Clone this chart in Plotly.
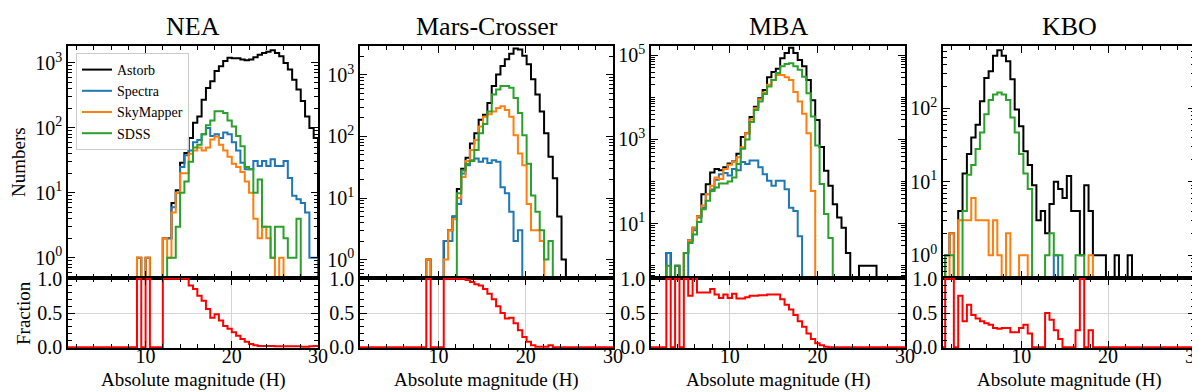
import numpy as np
import plotly.graph_objects as go

BIN_WIDTH = 0.5
H_MIN, H_MAX = 1.0, 30.0

PANELS = ["NEA", "Mars-Crosser", "MBA", "KBO"]
SURVEYS = ["Astorb", "Spectra", "SkyMapper", "SDSS"]
SURVEY_COLORS = ["#000000", "#1f77b4", "#ff7f0e", "#2ca02c"]

# histograms: (left edge of the first bin in H, counts per 0.5 mag bin)
NEA_ASTORB = (9.0, [1, 0, 1, 0, 0, 0, 2, 2, 7, 11, 29, 41, 70, 120, 150, 270, 410, 520, 750, 890,
                    1070, 1200, 1180, 1180, 1130, 1100, 1130, 1220, 1340, 1420, 1480, 1570, 1420, 1260,
                    1000, 790, 550, 390, 260, 150, 100, 70])
NEA_SPECTRA = (12.0, [2, 2, 6, 10, 25, 38, 45, 60, 65, 80, 100, 75, 80, 70, 85, 80, 60, 45, 29, 23,
                      23, 31, 26, 31, 26, 33, 26, 26, 31, 17, 9, 8, 7, 5, 1, 1])
NEA_SKYMAPPER = (9.0, [1, 0, 1, 0, 0, 0, 2, 1, 5, 10, 20, 20, 40, 45, 50, 45, 50, 66, 74, 55, 45, 36,
                       28, 25, 21, 15, 10, 4, 2, 3, 2, 1, 0, 1])
NEA_SDSS = (12.5, [1, 1, 3, 10, 15, 30, 50, 55, 80, 110, 130, 180, 180, 170, 130, 105, 75, 52, 25, 23,
                   10, 16, 3, 3, 1, 3, 3, 2, 1, 1, 4])
NEA_FRAC = (9.0, [1, 0, 1, 0, 0, 0, 1, 1, 1, 1, 1, 1, 0.9, 0.85, 0.75, 0.68, 0.56, 0.43, 0.48, 0.39,
                  0.31, 0.27, 0.22, 0.17, 0.12, 0.08, 0.05, 0.03, 0.02, 0.02, 0.02, 0.02, 0.015, 0.015,
                  0.015, 0.015, 0.015, 0.015, 0.01, 0.01, 0.015, 0.02])

MC_ASTORB = (8.6, [1, 0, 0, 0, 2, 3, 5, 14, 30, 45, 77, 113, 187, 225, 350, 660, 1020, 1400, 1800, 2200,
                   2700, 2600, 2050, 1490, 850, 480, 255, 113, 47, 21, 5, 1])
MC_SPECTRA = (10.6, [2, 2, 5, 8, 25, 34, 41, 44, 39, 44, 37, 41, 39, 15, 12, 6, 2, 3])
MC_SKYMAPPER = (8.6, [1, 0, 0, 0, 1, 3, 4.5, 10, 22, 40, 60, 88, 145, 210, 230, 255, 290, 310, 270, 210,
                      105, 53, 34, 8, 3, 3, 2])
MC_SDSS = (12.1, [12, 28, 36, 40, 60, 113, 160, 255, 480, 580, 660, 660, 620, 420, 240, 105, 36, 11, 6,
                  3, 1, 2])
MC_FRAC = (8.6, [1, 0, 0, 0, 1, 1, 1, 1, 1, 0.98, 0.95, 0.92, 0.9, 0.85, 0.78, 0.7, 0.6, 0.5, 0.42, 0.43,
                 0.35, 0.25, 0.15, 0.08, 0.03, 0.01, 0.01, 0.01, 0.03])

MBA_ASTORB = (2.75, [2, 0, 1, 0, 2, 4, 8, 15, 50, 87, 165, 200, 185, 220, 270, 300, 455, 1150, 1400, 3400,
                     6000, 9500, 15000, 30000, 40000, 48000, 85000, 113000, 150000, 113000, 77000,
                     55000, 26000, 8600, 2900, 660, 180, 80, 29, 14, 8, 2, 0, 0, 1, 1, 1, 1])
MBA_SPECTRA = (2.75, [2, 0, 0, 0, 0, 4, 7, 14, 24, 50, 65, 110, 150, 160, 140, 200, 185, 290, 260, 315,
                      315, 220, 150, 105, 80, 105, 105, 66, 24, 20, 5])
MBA_SKYMAPPER = (4.75, [2, 4, 8, 15, 27, 50, 80, 125, 115, 200, 250, 290, 380, 650, 1400, 3000, 5500, 9000,
                        13000, 20000, 26000, 34000, 34000, 30000, 26000, 13500, 8000, 4100, 1400, 60])
MBA_SDSS = (2.75, [1, 0, 1, 0, 2, 3.5, 5.5, 11, 22, 35, 60, 72, 90, 90, 100, 125, 260, 600, 1000, 2600,
                   5000, 8000, 12000, 18000, 26000, 38000, 55000, 62000, 65000, 55000, 45000, 31000, 12500,
                   3500, 720, 88, 17, 4.6])
MBA_FRAC = (2.75, [1, 0, 1, 0, 1, 0.75, 1, 0.8, 0.8, 0.8, 0.85, 0.77, 0.72, 0.77, 0.72, 0.78, 0.71, 0.71,
                   0.73, 0.75, 0.75, 0.76, 0.76, 0.77, 0.77, 0.77, 0.7, 0.62, 0.55, 0.47, 0.38, 0.3, 0.2,
                   0.12, 0.06, 0.03, 0.01])

KBO_ASTORB = (1.25, [1, 2, 0, 4, 13, 24, 40, 60, 125, 260, 320, 520, 620, 520, 440, 250, 97, 57, 26, 17,
                     9, 3, 4, 2, 5, 10, 8, 6, 12, 4, 4, 1, 9, 4, 1, 1, 1, 0, 0, 1, 0, 0, 1])
KBO_SPECTRA = (13.75, [1])
KBO_SKYMAPPER = (1.75, [2, 0, 3, 3, 3, 6, 3, 3, 3, 1, 3, 1, 0, 2, 0, 0, 1, 1, 0, 0, 0, 0, 0, 0, 0, 0, 0,
                        0, 0, 0, 0, 0, 1])
KBO_SDSS = (1.25, [1, 1, 0, 0, 4, 12.5, 17, 28, 47, 83, 130, 155, 165, 155, 130, 75, 47, 24, 13, 8, 0, 0,
                   0, 1, 2, 1, 1, 0, 0, 0, 1, 1])
KBO_FRAC = (1.25, [1, 1, 0, 0.75, 0.38, 0.62, 0.47, 0.42, 0.38, 0.35, 0.33, 0.28, 0.27, 0.28, 0.28, 0.22,
                   0.22, 0.28, 0.33, 0.2, 0, 0, 0, 0.5, 0.4, 0.25, 0.12, 0, 0, 0, 0.25, 1, 0, 0.25])

HISTS = [
    [NEA_ASTORB, NEA_SPECTRA, NEA_SKYMAPPER, NEA_SDSS],
    [MC_ASTORB, MC_SPECTRA, MC_SKYMAPPER, MC_SDSS],
    [MBA_ASTORB, MBA_SPECTRA, MBA_SKYMAPPER, MBA_SDSS],
    [KBO_ASTORB, KBO_SPECTRA, KBO_SKYMAPPER, KBO_SDSS],
]
FRACS = [NEA_FRAC, MC_FRAC, MBA_FRAC, KBO_FRAC]

FONT = "Liberation Serif, Times New Roman, serif"
W, H = 1200, 392
COL_PX = [(60, 310), (352, 605), (643, 897), (935, 1187)]
TOP_PX = (38, 270)
BOT_PX = (270, 340)
LOG_RANGES = [[-0.31, 3.26], [-0.3, 3.47], [-0.29, 5.22], [-0.31, 2.85]]
LOG_MAJOR = [[0, 1, 2, 3], [0, 1, 2, 3], [1, 3, 5], [0, 1, 2]]
LOG_FLOOR = 1e-2


def step_xy(h0, values, floor):
    v = np.asarray(values, dtype=float)
    edges = h0 + BIN_WIDTH * np.arange(len(v) + 1)
    x = np.concatenate([[edges[0]], edges[:-1], [edges[-1]]])
    y = np.concatenate([[floor], np.where(v > 0, v, floor), [floor]])
    return x, y


def pad_full(h0, values):
    vals = list(values)
    while h0 > H_MIN:
        h0 -= BIN_WIDTH
        vals.insert(0, 0.0)
    while h0 + BIN_WIDTH * len(vals) < H_MAX:
        vals.append(0.0)
    return h0, vals


def ydom(px):
    return [1 - px[1] / H, 1 - px[0] / H]


fig = go.Figure()
layout = {}
tick_font = dict(family=FONT, size=20, color="black")
frame = dict(showline=True, linecolor="black", linewidth=1.5, mirror="allticks", ticks="inside",
             tickcolor="black", tickwidth=1.2, zeroline=False, automargin=False)

for i, name in enumerate(PANELS):
    top, bot = 2 * i + 1, 2 * i + 2
    xt, yt = f"x{top}", f"y{top}"
    xb, yb = f"x{bot}", f"y{bot}"
    for j, (h0, counts) in enumerate(HISTS[i]):
        x, y = step_xy(h0, counts, LOG_FLOOR)
        fig.add_trace(go.Scatter(x=x, y=y, mode="lines", line=dict(color=SURVEY_COLORS[j], width=2, shape="hv"),
                                 name=SURVEYS[j], showlegend=(i == 0), xaxis=xt, yaxis=yt, hoverinfo="skip"))
    fh0, fvals = pad_full(*FRACS[i])
    x, y = step_xy(fh0, fvals, 0.0)
    fig.add_trace(go.Scatter(x=x, y=y, mode="lines", line=dict(color="#ff0000", width=2, shape="hv"),
                             showlegend=False, xaxis=xb, yaxis=yb, hoverinfo="skip"))

    xdom = [COL_PX[i][0] / W, COL_PX[i][1] / W]
    xcommon = dict(frame, range=[H_MIN, H_MAX], tickmode="linear", tick0=0, dtick=10, ticklen=7,
                   minor=dict(ticks="inside", ticklen=4, tickmode="linear", tick0=0, dtick=2, tickcolor="black"),
                   domain=xdom)
    layout["xaxis" if top == 1 else f"xaxis{top}"] = dict(xcommon, anchor=yt, showticklabels=False, showgrid=False)
    layout[f"xaxis{bot}"] = dict(xcommon, anchor=yb, showticklabels=True, tickfont=tick_font,
                                 ticklabelstandoff=-11, showgrid=True, gridcolor="#d4d4d4", gridwidth=1)

    majors = LOG_MAJOR[i]
    minor_vals = [m * 10.0 ** k for k in range(-1, 6) for m in range(1, 10)
                  if not (m == 1 and k in majors)]
    layout["yaxis" if top == 1 else f"yaxis{top}"] = dict(
        frame, type="log", range=LOG_RANGES[i], domain=ydom(TOP_PX), anchor=xt,
        tickmode="array", tickvals=[10.0 ** k for k in majors], ticktext=[f"10<sup>{k}</sup>" for k in majors],
        ticklen=7, tickfont=tick_font, showgrid=False,
        minor=dict(ticks="inside", ticklen=4, tickmode="array", tickvals=minor_vals, tickcolor="black"))
    layout[f"yaxis{bot}"] = dict(
        frame, range=[-0.01, 1.01], domain=ydom(BOT_PX), anchor=xb,
        tickmode="array", tickvals=[0, 0.5, 1.0], ticktext=["0.0", "0.5", "1.0"], ticklen=7,
        tickfont=tick_font, showgrid=True, gridcolor="#d4d4d4", gridwidth=1,
        minor=dict(ticks="inside", ticklen=4, tickmode="linear", tick0=0, dtick=0.1, tickcolor="black"))


def label(text, xpx, ypx, size, angle=0):
    return dict(text=text, x=xpx / W, y=1 - ypx / H, xref="paper", yref="paper", showarrow=False,
                xanchor="center", yanchor="middle", textangle=angle,
                font=dict(family=FONT, size=size, color="black"))


annotations = []
for i, name in enumerate(PANELS):
    xc = (COL_PX[i][0] + COL_PX[i][1]) / 2
    annotations.append(label(name, xc, 19, 26))
    annotations.append(label("Absolute magnitude (H)", xc, 372, 19))
annotations.append(label("Numbers", 11, 154, 19, -90))
annotations.append(label("Fraction", 15, 305, 19, -90))

fig.update_layout(
    **layout,
    annotations=annotations,
    width=W, height=H,
    margin=dict(l=0, r=0, t=0, b=0, autoexpand=False),
    paper_bgcolor="white",
    plot_bgcolor="white",
    showlegend=True,
    legend=dict(x=68 / W, y=1 - 45 / H, xanchor="left", yanchor="top",
                bgcolor="rgba(255,255,255,0.8)", bordercolor="#cccccc", borderwidth=1,
                font=dict(family=FONT, size=14, color="black"), itemwidth=30, tracegroupgap=0),
)

fig.write_html("out.html")
